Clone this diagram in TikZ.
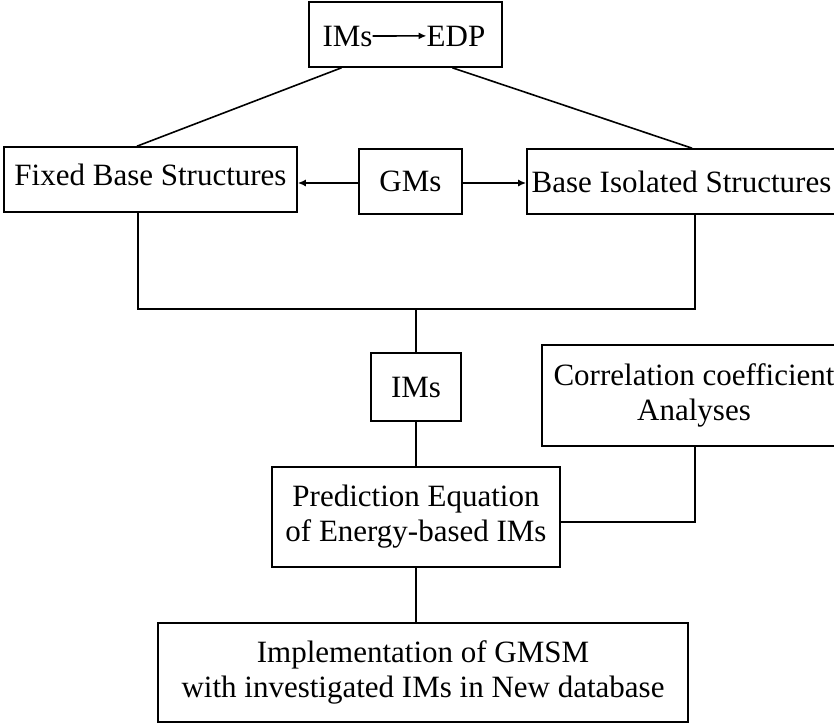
\documentclass[tikz,border=0pt]{standalone}
\usepackage{fontspec}
\setmainfont{Liberation Serif}
\usetikzlibrary{arrows.meta,calc}
\begin{document}
\begin{tikzpicture}[x=1pt,y=-1pt,
  box/.style={draw, line width=1.6pt, inner sep=0pt, align=center, font=\fontsize{31}{35}\selectfont},
  txt/.style={inner sep=0pt, font=\fontsize{31}{35}\selectfont},
  link/.style={line width=1.6pt},
  arr/.style={line width=1.6pt, -{Latex[length=8pt,width=7pt]}}]
\useasboundingbox (0,0) rectangle (834,723);
% top box
\node[box, minimum width=193pt, minimum height=65pt] (top) at (405.5,34.5) {};
\node[txt, anchor=base] (imsA) at (347.5,46) {IMs};
\node[txt, anchor=base] (edp) at (456,46) {EDP};
\draw[arr] (imsA.east) -- (edp.west);
% second row
\node[box, minimum width=293pt, minimum height=65pt, text depth=10pt] (fixed) at (150.5,179.5) {Fixed Base Structures};
\node[box, minimum width=103pt, minimum height=65pt] (gms) at (410.5,181.5) {GMs};
\node[box, minimum width=309pt, minimum height=65pt] (base) at (681.5,181.5) {Base Isolated Structures};
% middle
\node[box, minimum width=90pt, minimum height=68pt] (imsB) at (416,387) {IMs};
\node[box, minimum width=304pt, minimum height=101pt] (corr) at (694,395.5) {Correlation coefficient\\Analyses};
\node[box, minimum width=288pt, minimum height=100pt] (pred) at (416,517) {Prediction Equation\\of Energy-based IMs};
\node[box, minimum width=530pt, minimum height=99pt] (impl) at (423,672.5) {Implementation of GMSM\\with investigated IMs in New database};
% connectors
\draw[link] ($(top.south west)!0.171!(top.south east)$) -- ($(fixed.north west)!0.454!(fixed.north east)$);
\draw[link] ($(top.south west)!0.741!(top.south east)$) -- ($(base.north west)!0.534!(base.north east)$);
\draw[arr] ($(gms.west)+(0,1.5)$) -- ($(gms.west -| fixed.east)+(0,1.5)$);
\draw[arr] ($(gms.east)+(0,1.5)$) -- ($(gms.east -| base.west)+(0,1.5)$);
\coordinate (jn) at (416,309);
\draw[link] ($(fixed.south west)!0.457!(fixed.south east)$) |- (jn) -| ($(base.south west)!0.544!(base.south east)$);
\draw[link] (jn) -- (imsB.north);
\draw[link] (imsB.south) -- (imsB.south |- pred.north);
\draw[link] ($(pred.east)+(0,5)$) -| ($(corr.south west)!0.503!(corr.south east)$);
\draw[link] (pred.south) -- (pred.south |- impl.north);
\end{tikzpicture}
\end{document}
